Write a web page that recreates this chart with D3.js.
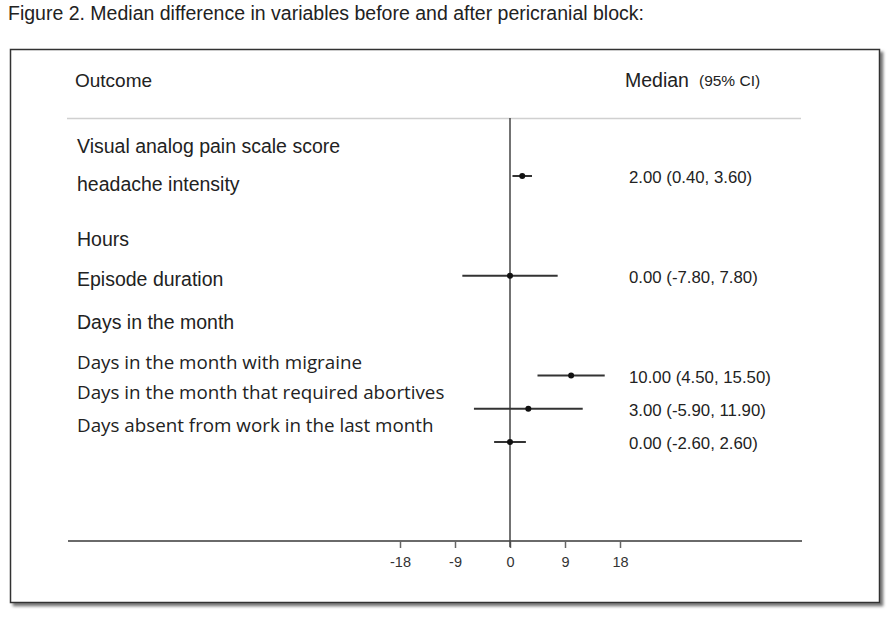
<!DOCTYPE html>
<html>
<head>
<meta charset="utf-8">
<script src="https://cdn.jsdelivr.net/npm/d3@7"></script>
<style>
  body { margin: 0; background: #fff; }
  svg { display: block; }
</style>
</head>
<body>
<script>
'use strict';

// chart data
const outcomes = ["Visual analog pain scale score", "Episode duration", "Days in the month with migraine",
  "Days in the month that required abortives", "Days absent from work in the last month"];
const medians = [2.00, 0.00, 10.00, 3.00, 0.00];
const ciLow = [0.40, -7.80, 4.50, -5.90, -2.60];
const ciHigh = [3.60, 7.80, 15.50, 11.90, 2.60];
const leftLabels = ["Visual analog pain scale score", "headache intensity", "Hours", "Episode duration",
  "Days in the month", "Days in the month with migraine", "Days in the month that required abortives",
  "Days absent from work in the last month"];
const xTicks = [-18, -9, 0, 9, 18];
const titleText = "Figure 2. Median difference in variables before and after pericranial block:";

(function() {
  const W = 894, H = 617;
  const ARIAL = 'Liberation Sans, Arial, sans-serif';

  // row slots (layout only)
  const pointSlot = [0, 3, 6, 7, 8];
  const labelSlot = [-0.7, 0.45, 2.1, 3.3, 4.6, 5.8, 6.7, 7.7];
  const labelFont = ["arial", "arial", "arial", "arial", "arial", "open", "open", "open"];

  const svg = d3.select('body').append('svg')
    .attr('width', W)
    .attr('height', H);

  svg.append('rect').attr('width', W).attr('height', H).attr('fill', '#fff');

  const defs = svg.append('defs');
  const f = defs.append('filter').attr('id', 'shadow')
    .attr('x', '-5%').attr('y', '-5%').attr('width', '110%').attr('height', '110%');
  f.append('feDropShadow').attr('dx', 3).attr('dy', 3).attr('stdDeviation', 1.5)
    .attr('flood-color', '#000').attr('flood-opacity', 0.55);

  // hyphen minus like the original
  const f2 = v => d3.format('.2f')(v).replace('\u2212', '-');
  const fi = v => d3.format('d')(v).replace('\u2212', '-');

  // title
  svg.append('text')
    .attr('x', 8).attr('y', 20)
    .style('font-family', ARIAL)
    .style('font-size', '19.5px')
    .attr('fill', '#222')
    .text(titleText);

  // frame
  svg.append('rect')
    .attr('x', 10.5).attr('y', 49.5)
    .attr('width', 869).attr('height', 553)
    .attr('fill', '#fff')
    .attr('stroke', '#333')
    .attr('stroke-width', 1.5)
    .attr('filter', 'url(#shadow)');

  // scales
  const x = d3.scaleLinear().domain([-18, 18]).range([400, 620]);
  const y = d3.scaleLinear().domain([0, 8]).range([176, 442]);
  const axisY = 541;

  // header
  svg.append('text')
    .attr('x', 75).attr('y', 87)
    .style('font-family', ARIAL)
    .style('font-size', '19px')
    .attr('fill', '#222')
    .text('Outcome');

  const med = svg.append('text')
    .attr('x', 625).attr('y', 87)
    .style('font-family', ARIAL)
    .attr('fill', '#222');
  med.append('tspan').style('font-size', '19.5px').text('Median');
  med.append('tspan').attr('dx', 10).attr('dy', -1).style('font-size', '15.5px').text('(95% CI)');

  svg.append('line')
    .attr('x1', 67).attr('x2', 801)
    .attr('y1', 118.5).attr('y2', 118.5)
    .attr('stroke', '#d0d0d0').attr('stroke-width', 1.5);

  // left labels
  svg.selectAll('.lbl')
    .data(leftLabels)
    .enter()
    .append('text')
    .attr('class', 'lbl')
    .attr('x', 77)
    .attr('y', (d, i) => y(labelSlot[i]))
    .style('font-family', (d, i) => labelFont[i] === 'open' ? 'Open Sans, sans-serif' : ARIAL)
    .style('font-size', (d, i) => labelFont[i] === 'open' ? '18.8px' : '19.5px')
    .attr('fill', '#222')
    .text(d => d);

  // x axis
  svg.append('line')
    .attr('x1', 68).attr('x2', 802)
    .attr('y1', axisY).attr('y2', axisY)
    .attr('stroke', '#6a6a6a').attr('stroke-width', 2);

  const xAxis = d3.axisBottom(x).tickValues(xTicks).tickSize(7).tickPadding(9)
    .tickFormat(fi);
  const gx = svg.append('g')
    .attr('transform', 'translate(0,' + axisY + ')')
    .call(xAxis);
  gx.select('.domain').remove();
  gx.selectAll('.tick line').attr('stroke', '#666').attr('stroke-width', 1.5);
  gx.selectAll('.tick text')
    .style('font-family', ARIAL)
    .style('font-size', '14.5px')
    .attr('fill', '#333');

  // zero line
  svg.append('line')
    .attr('x1', x(0)).attr('x2', x(0))
    .attr('y1', 118).attr('y2', axisY + 6)
    .attr('stroke', '#444').attr('stroke-width', 1.5);

  const rows = outcomes.map((o, i) => ({ name: o, m: medians[i], lo: ciLow[i], hi: ciHigh[i], slot: pointSlot[i] }));

  // CI lines
  svg.selectAll('.ci')
    .data(rows)
    .enter()
    .append('line')
    .attr('class', 'ci')
    .attr('x1', d => x(d.lo)).attr('x2', d => x(d.hi))
    .attr('y1', d => y(d.slot)).attr('y2', d => y(d.slot))
    .attr('stroke', '#333').attr('stroke-width', 2);

  svg.selectAll('.dot')
    .data(rows)
    .enter()
    .append('circle')
    .attr('class', 'dot')
    .attr('cx', d => x(d.m))
    .attr('cy', d => y(d.slot))
    .attr('r', 3)
    .attr('fill', '#111');

  // right labels
  svg.selectAll('.val')
    .data(rows)
    .enter()
    .append('text')
    .attr('class', 'val')
    .attr('x', 629)
    .attr('y', d => y(d.slot) + 7)
    .style('font-family', ARIAL)
    .style('font-size', '16.8px')
    .attr('fill', '#222')
    .text(d => f2(d.m) + ' (' + f2(d.lo) + ', ' + f2(d.hi) + ')');
})();
</script>
</body>
</html>
